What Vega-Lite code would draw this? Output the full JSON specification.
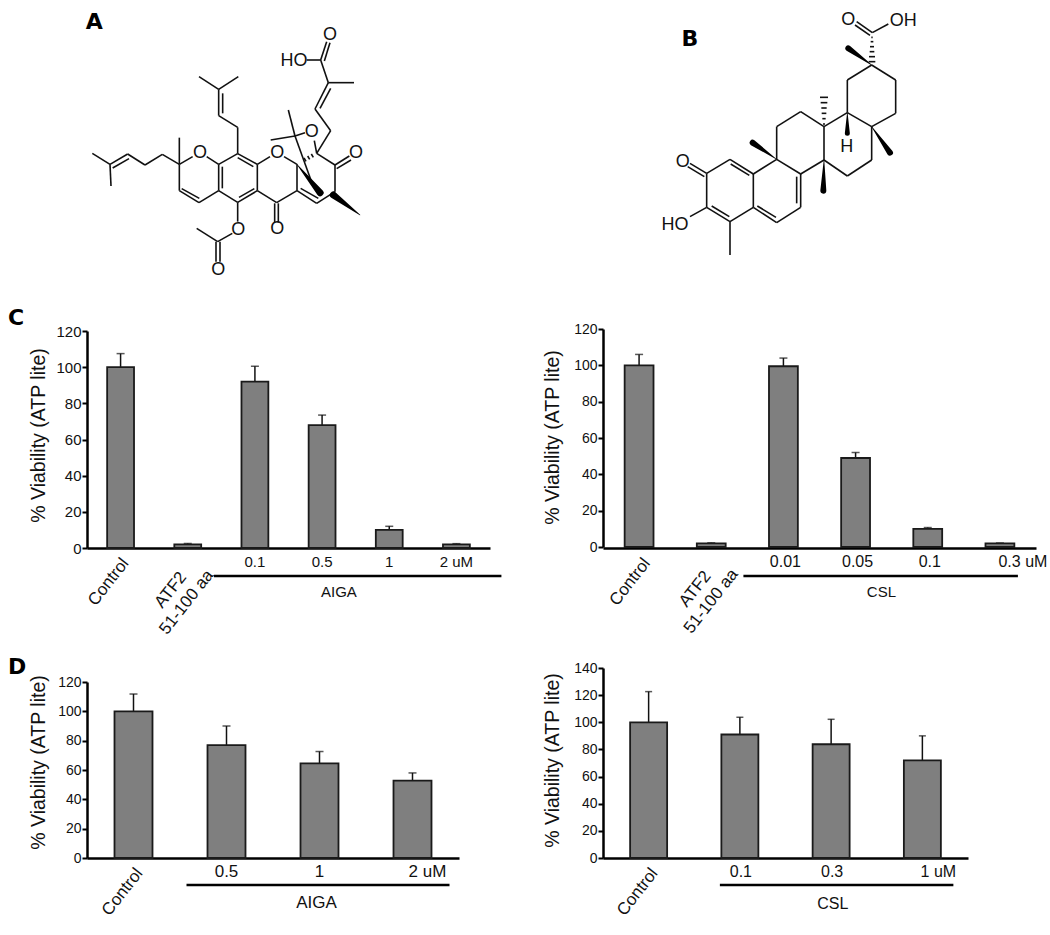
{"$schema":"https://vega.github.io/schema/vega-lite/v6.json","padding":{"left":8,"top":0,"right":0,"bottom":0},"autosize":{"type":"pad"},"background":"white","columns":2,"align":"each","bounds":"flush","spacing":{"column":113,"row":30},
"config":{"font":"Liberation Sans","view":{"stroke":null},"text":{"lineBreak":"\n"},"axis":{"labelFont":"Liberation Sans","titleFont":"Liberation Sans","labelColor":"#111","titleColor":"#111","domainColor":"#000","tickColor":"#000","grid":false},"title":{"font":"DejaVu Sans","fontWeight":"bold","fontSize":22,"color":"#000"}},
"datasets":{
"bondsA":[{"a":97,"b":460,"a2":150,"b2":493},{"a":150,"b":493,"a2":153,"b2":558},{"a":150,"b":493,"a2":203,"b2":462},{"a":158,"b":504,"a2":207,"b2":476},{"a":203,"b":462,"a2":255,"b2":495},{"a":255,"b":495,"a2":307,"b2":463},{"a":307,"b":463,"a2":358,"b2":493},{"a":358,"b":493,"a2":358,"b2":413},{"a":358,"b":493,"a2":398,"b2":470},{"a":440,"b":470,"a2":476,"b2":493},{"a":358,"b":493,"a2":358,"b2":572},{"a":358,"b":572,"a2":417,"b2":608},{"a":365,"b":566,"a2":418,"b2":595},{"a":417,"b":608,"a2":476,"b2":572},{"a":476,"b":493,"a2":533,"b2":461},{"a":533,"b":461,"a2":592,"b2":493},{"a":592,"b":493,"a2":592,"b2":572},{"a":592,"b":572,"a2":533,"b2":607},{"a":533,"b":607,"a2":476,"b2":572},{"a":476,"b":572,"a2":476,"b2":493},{"a":487,"b":500,"a2":487,"b2":565},{"a":533,"b":473,"a2":580,"b2":500},{"a":537,"b":592,"a2":583,"b2":566},{"a":533,"b":461,"a2":533,"b2":382},{"a":533,"b":382,"a2":476,"b2":347},{"a":476,"b":347,"a2":476,"b2":268},{"a":488,"b":340,"a2":488,"b2":280},{"a":476,"b":268,"a2":417,"b2":230},{"a":476,"b":268,"a2":535,"b2":230},{"a":592,"b":493,"a2":630,"b2":470},{"a":672,"b":470,"a2":711,"b2":493},{"a":592,"b":572,"a2":650,"b2":608},{"a":650,"b":608,"a2":711,"b2":572},{"a":644,"b":610,"a2":644,"b2":668},{"a":655,"b":610,"a2":655,"b2":668},{"a":711,"b":493,"a2":711,"b2":572},{"a":711,"b":572,"a2":770,"b2":610},{"a":722,"b":565,"a2":775,"b2":595},{"a":770,"b":610,"a2":825,"b2":575},{"a":825,"b":575,"a2":825,"b2":495},{"a":825,"b":495,"a2":770,"b2":460},{"a":825,"b":495,"a2":868,"b2":468},{"a":830,"b":506,"a2":873,"b2":480},{"a":770,"b":460,"a2":763,"b2":422},{"a":735,"b":398,"a2":705,"b2":408},{"a":632,"b":420,"a2":705,"b2":408},{"a":685,"b":330,"a2":705,"b2":408},{"a":705,"b":408,"a2":760,"b2":560},{"a":760,"b":560,"a2":790,"b2":580},{"a":770,"b":460,"a2":812,"b2":392},{"a":812,"b":392,"a2":765,"b2":327},{"a":765,"b":327,"a2":805,"b2":248},{"a":780,"b":325,"a2":812,"b2":265},{"a":805,"b":248,"a2":882,"b2":248},{"a":805,"b":248,"a2":782,"b2":180},{"a":782,"b":180,"a2":800,"b2":125},{"a":793,"b":183,"a2":810,"b2":128},{"a":782,"b":180,"a2":740,"b2":180},{"a":533,"b":607,"a2":533,"b2":665},{"a":517,"b":700,"a2":473,"b2":725},{"a":473,"b":725,"a2":410,"b2":685},{"a":468,"b":725,"a2":468,"b2":785},{"a":480,"b":725,"a2":480,"b2":785},{"a":732,"b":474,"a2":738,"b2":484},{"a":743,"b":468,"a2":749,"b2":478},{"a":754,"b":462,"a2":760,"b2":472}],
"wedgesA":[{"id":"w1","a":711,"b":493,"w":0.5},{"id":"w1","a":780,"b":578,"w":7},{"id":"w2","a":900,"b":645,"w":0.5},{"id":"w2","a":820,"b":585,"w":7}],
"textA":[{"a":420,"b":460,"t":"O"},{"a":652,"b":460,"t":"O"},{"a":652,"b":688,"t":"O"},{"a":888,"b":460,"t":"O"},{"a":755,"b":395,"t":"O"},{"a":810,"b":105,"t":"O"},{"a":702,"b":183,"t":"HO"},{"a":535,"b":690,"t":"O"},{"a":475,"b":810,"t":"O"}],
"bondsB":[{"a":200,"b":520,"a2":270,"b2":478},{"a":270,"b":478,"a2":340,"b2":522},{"a":272,"b":492,"a2":328,"b2":526},{"a":340,"b":522,"a2":340,"b2":622},{"a":340,"b":622,"a2":270,"b2":665},{"a":270,"b":665,"a2":200,"b2":622},{"a":268,"b":650,"a2":215,"b2":618},{"a":200,"b":622,"a2":200,"b2":520},{"a":200,"b":520,"a2":150,"b2":490},{"a":193,"b":530,"a2":143,"b2":500},{"a":200,"b":622,"a2":150,"b2":650},{"a":270,"b":665,"a2":270,"b2":765},{"a":340,"b":522,"a2":410,"b2":478},{"a":410,"b":478,"a2":482,"b2":522},{"a":482,"b":522,"a2":482,"b2":622},{"a":470,"b":530,"a2":470,"b2":610},{"a":482,"b":622,"a2":410,"b2":668},{"a":410,"b":668,"a2":340,"b2":622},{"a":352,"b":618,"a2":408,"b2":652},{"a":410,"b":478,"a2":410,"b2":380},{"a":410,"b":380,"a2":482,"b2":335},{"a":482,"b":335,"a2":552,"b2":380},{"a":552,"b":380,"a2":552,"b2":480},{"a":552,"b":480,"a2":482,"b2":522},{"a":552,"b":380,"a2":622,"b2":338},{"a":622,"b":338,"a2":695,"b2":380},{"a":695,"b":380,"a2":695,"b2":480},{"a":695,"b":480,"a2":622,"b2":528},{"a":622,"b":528,"a2":552,"b2":480},{"a":622,"b":338,"a2":622,"b2":240},{"a":622,"b":240,"a2":695,"b2":195},{"a":695,"b":195,"a2":767,"b2":240},{"a":767,"b":240,"a2":767,"b2":340},{"a":767,"b":340,"a2":695,"b2":380},{"a":697,"b":98,"a2":650,"b2":65},{"a":690,"b":106,"a2":645,"b2":75},{"a":697,"b":98,"a2":745,"b2":72},{"a":549,"b":372,"a2":555,"b2":372},{"a":547,"b":356,"a2":557,"b2":356},{"a":545,"b":340,"a2":559,"b2":340},{"a":544,"b":324,"a2":560,"b2":324},{"a":542,"b":308,"a2":562,"b2":308},{"a":540,"b":292,"a2":564,"b2":292},{"a":686,"b":185,"a2":706,"b2":185},{"a":687,"b":170,"a2":705,"b2":170},{"a":689,"b":155,"a2":703,"b2":155},{"a":690,"b":140,"a2":702,"b2":140},{"a":692,"b":125,"a2":700,"b2":125},{"a":694,"b":112,"a2":698,"b2":112}],
"wedgesB":[{"id":"w1","a":410,"b":478,"w":0.5},{"id":"w1","a":338,"b":428,"w":6},{"id":"w2","a":552,"b":480,"w":0.5},{"id":"w2","a":550,"b":572,"w":6},{"id":"w3","a":622,"b":338,"w":0.5},{"id":"w3","a":622,"b":400,"w":5},{"id":"w4","a":695,"b":380,"w":0.5},{"id":"w4","a":750,"b":458,"w":6},{"id":"w5","a":695,"b":195,"w":0.5},{"id":"w5","a":625,"b":145,"w":6}],
"textB":[{"a":128,"b":487,"t":"O"},{"a":105,"b":675,"t":"HO"},{"a":625,"b":60,"t":"O"},{"a":790,"b":62,"t":"OH"},{"a":620,"b":440,"t":"H"}]
},
"concat":[
{"width":403,"height":299,"data":{"name":"bondsA"},"layer":[
{"mark":{"type":"rule","strokeWidth":1.6,"color":"#111"},"encoding":{"x":{"field":"a","type":"quantitative","scale":{"domain":[81,1290],"zero":false,"nice":false},"axis":null},"y":{"field":"b","type":"quantitative","scale":{"domain":[897,0],"zero":false,"nice":false},"axis":null},"x2":{"field":"a2"},"y2":{"field":"b2"}}},
{"data":{"name":"wedgesA"},"mark":{"type":"trail","color":"#000"},"encoding":{"x":{"field":"a","type":"quantitative"},"y":{"field":"b","type":"quantitative"},"detail":{"field":"id"},"size":{"field":"w","type":"quantitative","scale":{"domain":[0,10],"range":[0,10]},"legend":null}}},
{"data":{"name":"textA"},"mark":{"type":"text","fontSize":18,"color":"#111"},"encoding":{"x":{"field":"a","type":"quantitative"},"y":{"field":"b","type":"quantitative"},"text":{"field":"t"}}},
{"data":{"values":[{"a":103,"b":65,"t":"A"}]},"mark":{"type":"text","font":"DejaVu Sans","fontWeight":"bold","fontSize":22,"color":"#000"},"encoding":{"x":{"field":"a","type":"quantitative"},"y":{"field":"b","type":"quantitative"},"text":{"field":"t"}}}
]},
{"width":433,"height":299,"data":{"name":"bondsB"},"layer":[
{"mark":{"type":"rule","strokeWidth":1.6,"color":"#111"},"encoding":{"x":{"field":"a","type":"quantitative","scale":{"domain":[-111,1188],"zero":false,"nice":false},"axis":null},"y":{"field":"b","type":"quantitative","scale":{"domain":[897,0],"zero":false,"nice":false},"axis":null},"x2":{"field":"a2"},"y2":{"field":"b2"}}},
{"data":{"name":"wedgesB"},"mark":{"type":"trail","color":"#000"},"encoding":{"x":{"field":"a","type":"quantitative"},"y":{"field":"b","type":"quantitative"},"detail":{"field":"id"},"size":{"field":"w","type":"quantitative","scale":{"domain":[0,10],"range":[0,10]},"legend":null}}},
{"data":{"name":"textB"},"mark":{"type":"text","fontSize":18,"color":"#111"},"encoding":{"x":{"field":"a","type":"quantitative"},"y":{"field":"b","type":"quantitative"},"text":{"field":"t"}}},
{"data":{"values":[{"a":150,"b":117,"t":"B"}]},"mark":{"type":"text","font":"DejaVu Sans","fontWeight":"bold","fontSize":22,"color":"#000"},"encoding":{"x":{"field":"a","type":"quantitative"},"y":{"field":"b","type":"quantitative"},"text":{"field":"t"}}}
]},
{"width":403,"height":219,"title":{"text":"C","anchor":"start","frame":"group","dx":-79,"offset":0,"baseline":"bottom","dy":28},
"data":{"values":[{"cat":"Control","kind":"control","v":100,"up":107.5},{"cat":"ATF2\n51-100 aa","kind":"peptide","v":2,"up":2.5},{"cat":"0.1","kind":"dose","v":92,"up":100.5,"end":"2 uM","grp":"AIGA"},{"cat":"0.5","kind":"dose","v":68,"up":73.5},{"cat":"1","kind":"dose","v":10,"up":12},{"cat":"2 uM","kind":"dose","v":2,"up":2.4}]},
"encoding":{"x":{"field":"cat","type":"nominal","scale":{"domain":["Control","ATF2\n51-100 aa","0.1","0.5","1","2 uM"],"paddingInner":0.6,"paddingOuter":0.3},"axis":{"title":null,"labels":false,"ticks":false,"domainWidth":2.5}},"y":{"field":"v","type":"quantitative","scale":{"domain":[0,120],"range":[219,2],"nice":false},"axis":{"title":"% Viability (ATP lite)","titleFontSize":19.5,"titleFontWeight":"normal","titleX":-49,"titleY":106,"titleBaseline":"middle","values":[0,20,40,60,80,100,120],"labelFontSize":15,"labelPadding":1,"tickSize":5,"tickWidth":2,"domainWidth":2.5}}},
"layer":[
{"mark":{"type":"rule","strokeWidth":1.5,"color":"#111"},"encoding":{"y2":{"field":"up"}}},
{"mark":{"type":"tick","size":8,"thickness":1.5,"color":"#111"},"encoding":{"y":{"field":"up","type":"quantitative"}}},
{"mark":{"type":"bar","fill":"#7f7f7f","stroke":"#1a1a1a","strokeWidth":1.8}},
{"transform":[{"filter":"datum.kind==='control'"}],"mark":{"type":"text","angle":308,"fontSize":17,"color":"#111","xOffset":-12,"yOffset":34},"encoding":{"y":{"datum":0},"text":{"field":"cat"}}},
{"transform":[{"filter":"datum.kind==='peptide'"}],"mark":{"type":"text","angle":308,"fontSize":17,"lineHeight":20,"color":"#111","xOffset":-17,"yOffset":42},"encoding":{"y":{"datum":0},"text":{"field":"cat"}}},
{"transform":[{"filter":"datum.kind==='dose'"}],"mark":{"type":"text","fontSize":15,"color":"#111","yOffset":14},"encoding":{"y":{"datum":0},"text":{"field":"cat"}}},
{"transform":[{"filter":"datum.grp"}],"mark":{"type":"rule","strokeWidth":2.5,"color":"#000","xOffset":-41,"x2Offset":45,"yOffset":28},"encoding":{"x2":{"field":"end"},"y":{"datum":0}}},
{"transform":[{"filter":"datum.grp"}],"mark":{"type":"text","fontSize":15,"color":"#111","xOffset":84,"yOffset":44},"encoding":{"y":{"datum":0},"text":{"field":"grp"}}}
]},
{"width":433,"height":219,
"data":{"values":[{"cat":"Control","kind":"control","v":100,"up":106},{"cat":"ATF2\n51-100 aa","kind":"peptide","v":2,"up":2.3},{"cat":"0.01","kind":"dose","v":99.5,"up":104,"end":"0.3 uM","grp":"CSL"},{"cat":"0.05","kind":"dose","v":49,"up":52},{"cat":"0.1","kind":"dose","v":10,"up":10.7},{"cat":"0.3 uM","kind":"last","v":2,"up":2.2}]},
"encoding":{"x":{"field":"cat","type":"nominal","scale":{"domain":["Control","ATF2\n51-100 aa","0.01","0.05","0.1","0.3 uM"],"paddingInner":0.6,"paddingOuter":0.3},"axis":{"title":null,"labels":false,"ticks":false,"domainWidth":2.5}},"y":{"field":"v","type":"quantitative","scale":{"domain":[0,120],"range":[218,0],"nice":false},"axis":{"title":"% Viability (ATP lite)","titleFontSize":19.5,"titleFontWeight":"normal","titleX":-51,"titleY":108,"titleBaseline":"middle","values":[0,20,40,60,80,100,120],"labelFontSize":14,"labelPadding":1,"tickSize":5,"tickWidth":2,"domainWidth":2.5}}},
"layer":[
{"mark":{"type":"rule","strokeWidth":1.5,"color":"#111"},"encoding":{"y2":{"field":"up"}}},
{"mark":{"type":"tick","size":8,"thickness":1.5,"color":"#111"},"encoding":{"y":{"field":"up","type":"quantitative"}}},
{"mark":{"type":"bar","fill":"#7f7f7f","stroke":"#1a1a1a","strokeWidth":1.8}},
{"transform":[{"filter":"datum.kind==='control'"}],"mark":{"type":"text","angle":308,"fontSize":17,"color":"#111","xOffset":-9,"yOffset":35},"encoding":{"y":{"datum":0},"text":{"field":"cat"}}},
{"transform":[{"filter":"datum.kind==='peptide'"}],"mark":{"type":"text","angle":308,"fontSize":17,"lineHeight":20,"color":"#111","xOffset":-16,"yOffset":42},"encoding":{"y":{"datum":0},"text":{"field":"cat"}}},
{"transform":[{"filter":"datum.kind==='dose'"}],"mark":{"type":"text","fontSize":16,"color":"#111","xOffset":2,"yOffset":15},"encoding":{"y":{"datum":0},"text":{"field":"cat"}}},
{"transform":[{"filter":"datum.kind==='last'"}],"mark":{"type":"text","fontSize":16,"color":"#111","xOffset":23,"yOffset":15},"encoding":{"y":{"datum":0},"text":{"field":"cat"}}},
{"transform":[{"filter":"datum.grp"}],"mark":{"type":"rule","strokeWidth":2.5,"color":"#000","xOffset":-40,"x2Offset":18,"yOffset":29},"encoding":{"x2":{"field":"end"},"y":{"datum":0}}},
{"transform":[{"filter":"datum.grp"}],"mark":{"type":"text","fontSize":15,"color":"#111","xOffset":98,"yOffset":45},"encoding":{"y":{"datum":0},"text":{"field":"grp"}}}
]},
{"width":372,"height":280,"title":{"text":"D","anchor":"start","frame":"group","dx":-79,"offset":0,"baseline":"bottom","dy":123},
"data":{"values":[{"cat":"Control","kind":"control","v":100,"up":111.8},{"cat":"0.5","kind":"dose","v":77,"up":90,"end":"2 uM","grp":"AIGA"},{"cat":"1","kind":"dose","v":64.5,"up":72.6},{"cat":"2 uM","kind":"last","v":52.7,"up":58}]},
"encoding":{"x":{"field":"cat","type":"nominal","scale":{"domain":["Control","0.5","1","2 uM"],"paddingInner":0.59,"paddingOuter":0.295},"axis":{"title":null,"labels":false,"ticks":false,"domainWidth":2.5}},"y":{"field":"v","type":"quantitative","scale":{"domain":[0,120],"range":[280,104],"nice":false},"axis":{"title":"% Viability (ATP lite)","titleFontSize":19.5,"titleFontWeight":"normal","titleX":-49,"titleY":184,"titleBaseline":"middle","values":[0,20,40,60,80,100,120],"labelFontSize":14,"labelPadding":1,"tickSize":5,"tickWidth":2,"domainWidth":2.5}}},
"layer":[
{"mark":{"type":"rule","strokeWidth":1.5,"color":"#111"},"encoding":{"y2":{"field":"up"}}},
{"mark":{"type":"tick","size":8,"thickness":1.5,"color":"#111"},"encoding":{"y":{"field":"up","type":"quantitative"}}},
{"mark":{"type":"bar","fill":"#7f7f7f","stroke":"#1a1a1a","strokeWidth":1.8,"width":38}},
{"transform":[{"filter":"datum.kind==='control'"}],"mark":{"type":"text","angle":308,"fontSize":17,"color":"#111","xOffset":-11,"yOffset":34},"encoding":{"y":{"datum":0},"text":{"field":"cat"}}},
{"transform":[{"filter":"datum.kind==='dose'"}],"mark":{"type":"text","fontSize":17,"color":"#111","yOffset":14},"encoding":{"y":{"datum":0},"text":{"field":"cat"}}},
{"transform":[{"filter":"datum.kind==='last'"}],"mark":{"type":"text","fontSize":17,"color":"#111","xOffset":15,"yOffset":14},"encoding":{"y":{"datum":0},"text":{"field":"cat"}}},
{"transform":[{"filter":"datum.grp"}],"mark":{"type":"rule","strokeWidth":2.5,"color":"#000","xOffset":-40,"x2Offset":37,"yOffset":27},"encoding":{"x2":{"field":"end"},"y":{"datum":0}}},
{"transform":[{"filter":"datum.grp"}],"mark":{"type":"text","fontSize":17,"color":"#111","xOffset":90,"yOffset":45},"encoding":{"y":{"datum":0},"text":{"field":"grp"}}}
]},
{"width":365,"height":280,
"data":{"values":[{"cat":"Control","kind":"control","v":100,"up":122.6},{"cat":"0.1","kind":"dose","v":91,"up":103.7,"end":"1 uM","grp":"CSL"},{"cat":"0.3","kind":"dose","v":83.8,"up":102.2},{"cat":"1 uM","kind":"last","v":72,"up":90}]},
"encoding":{"x":{"field":"cat","type":"nominal","scale":{"domain":["Control","0.1","0.3","1 uM"],"paddingInner":0.59,"paddingOuter":0.295},"axis":{"title":null,"labels":false,"ticks":false,"domainWidth":2.5}},"y":{"field":"v","type":"quantitative","scale":{"domain":[0,140],"range":[280,90],"nice":false},"axis":{"title":"% Viability (ATP lite)","titleFontSize":19.5,"titleFontWeight":"normal","titleX":-51,"titleY":182,"titleBaseline":"middle","values":[0,20,40,60,80,100,120,140],"labelFontSize":14,"labelPadding":1,"tickSize":5,"tickWidth":2,"domainWidth":2.5}}},
"layer":[
{"mark":{"type":"rule","strokeWidth":1.5,"color":"#111"},"encoding":{"y2":{"field":"up"}}},
{"mark":{"type":"tick","size":7,"thickness":1.5,"color":"#111"},"encoding":{"y":{"field":"up","type":"quantitative"}}},
{"mark":{"type":"bar","fill":"#7f7f7f","stroke":"#1a1a1a","strokeWidth":1.8,"width":37}},
{"transform":[{"filter":"datum.kind==='control'"}],"mark":{"type":"text","angle":308,"fontSize":17,"color":"#111","xOffset":-11,"yOffset":34},"encoding":{"y":{"datum":0},"text":{"field":"cat"}}},
{"transform":[{"filter":"datum.kind==='dose'"}],"mark":{"type":"text","fontSize":16,"color":"#111","xOffset":1,"yOffset":14},"encoding":{"y":{"datum":0},"text":{"field":"cat"}}},
{"transform":[{"filter":"datum.kind==='last'"}],"mark":{"type":"text","fontSize":16,"color":"#111","xOffset":16,"yOffset":14},"encoding":{"y":{"datum":0},"text":{"field":"cat"}}},
{"transform":[{"filter":"datum.grp"}],"mark":{"type":"rule","strokeWidth":2.5,"color":"#000","xOffset":-20,"x2Offset":31,"yOffset":27},"encoding":{"x2":{"field":"end"},"y":{"datum":0}}},
{"transform":[{"filter":"datum.grp"}],"mark":{"type":"text","fontSize":16,"color":"#111","xOffset":93,"yOffset":46},"encoding":{"y":{"datum":0},"text":{"field":"grp"}}}
]}
]}
